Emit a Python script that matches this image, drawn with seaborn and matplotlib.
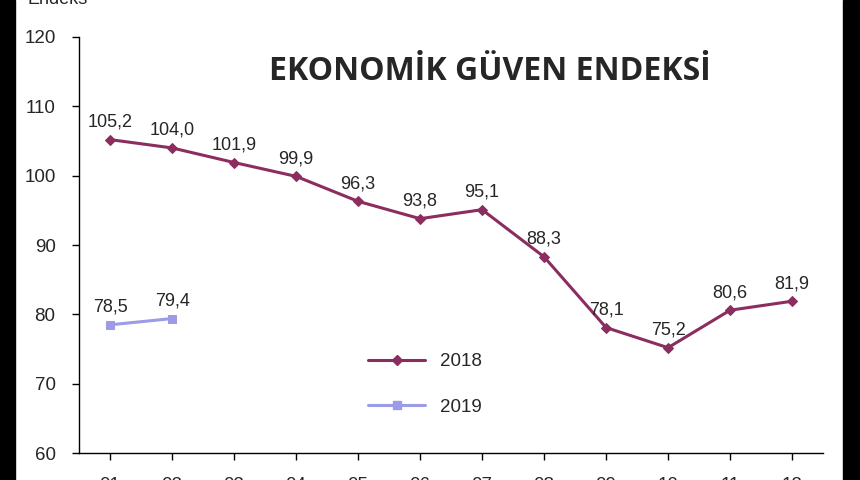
import matplotlib
matplotlib.use("Agg")
import matplotlib.pyplot as plt
import seaborn as sns
import pandas as pd
from matplotlib.patches import Rectangle
from matplotlib.lines import Line2D

months = ["01", "02", "03", "04", "05", "06", "07", "08", "09", "10", "11", "12"]
values_2018 = [105.2, 104.0, 101.9, 99.9, 96.3, 93.8, 95.1, 88.3, 78.1, 75.2, 80.6, 81.9]
values_2019 = [78.5, 79.4]

c2018 = "#8b2d5e"
c2019 = "#9b9be8"

sns.set_theme(style="white")
plt.rcParams['font.family'] = ['Liberation Sans', 'DejaVu Sans']

df18 = pd.DataFrame({"x": range(12), "v": values_2018})
df19 = pd.DataFrame({"x": range(len(values_2019)), "v": values_2019})

fig = plt.figure(figsize=(8.6, 4.8), dpi=100)
ax = fig.add_axes([0.092, 0.056, 0.865, 0.867])
sns.lineplot(data=df18, x="x", y="v", ax=ax, color=c2018, marker="D", markersize=5,
             markeredgecolor=c2018, linewidth=2.2)
sns.lineplot(data=df19, x="x", y="v", ax=ax, color=c2019, marker="s", markersize=6,
             markeredgecolor=c2019, linewidth=2.2)

for i, v in enumerate(values_2018):
    ax.text(i, v + 1.3, f"{v:.1f}".replace(".", ","), ha="center", va="bottom", fontsize=13)
for i, v in enumerate(values_2019):
    ax.text(i, v + 1.3, f"{v:.1f}".replace(".", ","), ha="center", va="bottom", fontsize=13)

ax.set_xlim(-0.5, 11.5)
ax.set_ylim(60, 120)
ax.set_yticks(range(60, 121, 10))
ax.set_xticks(range(12))
ax.set_xticklabels(months)
ax.set_xlabel("")
ax.set_ylabel("")
for s in ["top", "right"]:
    ax.spines[s].set_visible(False)
for s in ["left", "bottom"]:
    ax.spines[s].set_color("black")
    ax.spines[s].set_linewidth(1)
ax.tick_params(axis="both", direction="out", length=5, width=1, color="black",
               labelsize=13.5, left=True, bottom=True)
ax.tick_params(axis="y", pad=12)
ax.tick_params(axis="x", pad=12)

fig.text(0.57, 0.85, "EKONOMİK GÜVEN ENDEKSİ", ha="center", va="center",
         fontsize=23, fontweight="bold", family=["Open Sans", "DejaVu Sans"])
fig.text(0.032, 1.0, "Endeks", ha="left", va="center", fontsize=13)

handles = [Line2D([], [], color=c2018, marker="D", markersize=5, linewidth=2.2),
           Line2D([], [], color=c2019, marker="s", markersize=6, linewidth=2.2)]
ax.legend(handles, ["2018", "2019"], loc="center", bbox_to_anchor=(0.465, 0.165),
          frameon=False, fontsize=13.5, handlelength=3, labelspacing=1.5)

fig.patches.append(Rectangle((0, 0), 0.017, 1, transform=fig.transFigure, color="black"))
fig.patches.append(Rectangle((0.98, 0), 0.02, 1, transform=fig.transFigure, color="black"))

fig.savefig("out.png", dpi=100)
